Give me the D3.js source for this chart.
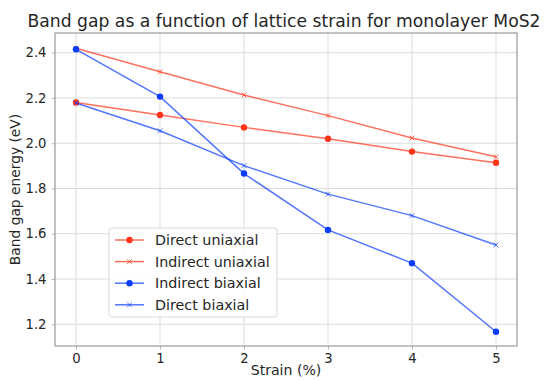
<!DOCTYPE html>
<html>
<head>
<meta charset="utf-8">
<script src="https://cdn.jsdelivr.net/npm/d3@7"></script>
<style>
  body { margin: 0; background: #fff; }
  text { font-family: 'DejaVu Sans', sans-serif; fill: #262626; }
</style>
</head>
<body>
<div id="chart"></div>
<script>
// strain values (%)
var strain = [0, 1, 2, 3, 4, 5]

var directUniaxial = [2.18, 2.125, 2.07, 2.02, 1.963, 1.914]
var indirectUniaxial = [2.42, 2.316, 2.213, 2.122, 2.023, 1.94]
var indirectBiaxial = [2.415, 2.206, 1.866, 1.617, 1.47, 1.167]
var directBiaxial = [2.178, 2.055, 1.901, 1.775, 1.68, 1.55]

var xTicks = [0, 1, 2, 3, 4, 5]
var yTicks = [1.2, 1.4, 1.6, 1.8, 2.0, 2.2, 2.4]

var series = [
  { name: 'Direct uniaxial', values: directUniaxial, color: '#ff3418', marker: 'dot' },
  { name: 'Indirect uniaxial', values: indirectUniaxial, color: '#ff3418', marker: 'x' },
  { name: 'Indirect biaxial', values: indirectBiaxial, color: '#0a3cff', marker: 'dot' },
  { name: 'Direct biaxial', values: directBiaxial, color: '#0a3cff', marker: 'x' }
]

var margin = { top: 33, right: 27, bottom: 35, left: 55 }
var width = 544 - margin.left - margin.right
var height = 381 - margin.top - margin.bottom

var svg = d3
  .select('#chart')
  .append('svg')
  .attr('width', 544)
  .attr('height', 381)

var g = svg.append('g')
  .attr('transform', 'translate(' + margin.left + ',' + margin.top + ')')

var x = d3.scaleLinear().domain([-0.25, 5.25]).range([0, width])
var y = d3.scaleLinear().domain([1.104, 2.487]).range([height, 0])

// grid
g.selectAll('.xgrid')
  .data(xTicks)
  .enter()
  .append('line')
  .attr('x1', d => x(d)).attr('x2', d => x(d))
  .attr('y1', 0).attr('y2', height)
  .attr('stroke', '#dcdcdc')
  .attr('stroke-width', 1)

g.selectAll('.ygrid')
  .data(yTicks)
  .enter()
  .append('line')
  .attr('y1', d => y(d)).attr('y2', d => y(d))
  .attr('x1', 0).attr('x2', width)
  .attr('stroke', '#dcdcdc')
  .attr('stroke-width', 1)

// axes
var xAxis = g.append('g')
  .attr('transform', 'translate(0,' + height + ')')
  .call(d3.axisBottom(x).tickValues(xTicks).tickFormat(d3.format('d')).tickSize(3.5).tickPadding(4))
var yAxis = g.append('g')
  .call(d3.axisLeft(y).tickValues(yTicks).tickFormat(d3.format('.1f')).tickSize(3.5).tickPadding(5))

xAxis.select('.domain').remove()
yAxis.select('.domain').remove()
xAxis.selectAll('line').attr('stroke', '#bbb')
yAxis.selectAll('line').attr('stroke', '#bbb')
xAxis.selectAll('text').attr('font-size', 13.2).attr('fill', '#262626')
yAxis.selectAll('text').attr('font-size', 13.2).attr('fill', '#262626')

// frame
g.append('rect')
  .attr('width', width)
  .attr('height', height)
  .attr('fill', 'none')
  .attr('stroke', '#999')
  .attr('stroke-width', 1.2)

var line = d3.line()
  .x((d, i) => x(strain[i]))
  .y(d => y(d))

function drawMarker(sel, s, cx, cy) {
  if (s.marker === 'dot') {
    sel.append('circle')
      .attr('cx', cx).attr('cy', cy).attr('r', 3.2)
      .attr('fill', s.color)
  } else {
    var r = 2.4
    sel.append('path')
      .attr('d', 'M' + (cx - r) + ',' + (cy - r) + 'L' + (cx + r) + ',' + (cy + r) +
        'M' + (cx - r) + ',' + (cy + r) + 'L' + (cx + r) + ',' + (cy - r))
      .attr('stroke', s.color)
      .attr('stroke-width', 1)
      .attr('opacity', 0.7)
  }
}

series.forEach(function (s) {
  g.append('path')
    .datum(s.values)
    .attr('d', line)
    .attr('fill', 'none')
    .attr('stroke', s.color)
    .attr('stroke-width', 1.5)
    .attr('opacity', 0.7)
  s.values.forEach(function (v, i) {
    drawMarker(g, s, x(strain[i]), y(v))
  })
})

// legend
var legend = svg.append('g').attr('transform', 'translate(109,228)')
legend.append('rect')
  .attr('width', 168)
  .attr('height', 89)
  .attr('rx', 3)
  .attr('fill', 'rgba(255,255,255,0.85)')
  .attr('stroke', '#d8d8d8')

series.forEach(function (s, i) {
  var ly = 12 + i * 21.6
  legend.append('line')
    .attr('x1', 6).attr('x2', 35)
    .attr('y1', ly).attr('y2', ly)
    .attr('stroke', s.color)
    .attr('stroke-width', 1.5)
    .attr('opacity', 0.7)
  drawMarker(legend, s, 20.5, ly)
  legend.append('text')
    .attr('x', 46)
    .attr('y', ly)
    .attr('dy', '0.35em')
    .attr('font-size', 14.3)
    .text(s.name)
})

// title and labels
svg.append('text')
  .attr('x', 284)
  .attr('y', 27)
  .attr('text-anchor', 'middle')
  .attr('font-size', 17.2)
  .text('Band gap as a function of lattice strain for monolayer MoS2')

svg.append('text')
  .attr('x', margin.left + width / 2)
  .attr('y', 375)
  .attr('text-anchor', 'middle')
  .attr('font-size', 14.1)
  .text('Strain (%)')

svg.append('text')
  .attr('transform', 'translate(20,' + (margin.top + height / 2) + ') rotate(-90)')
  .attr('text-anchor', 'middle')
  .attr('font-size', 13.8)
  .text('Band gap energy (eV)')
</script>
</body>
</html>
